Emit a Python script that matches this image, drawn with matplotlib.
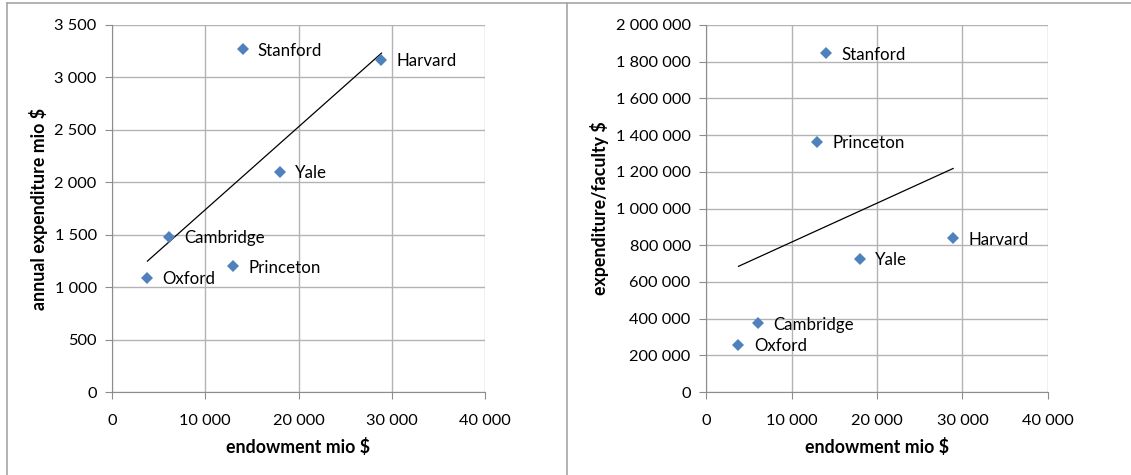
import matplotlib.pyplot as plt
import numpy as np
from matplotlib.lines import Line2D

# universities, endowment (mio $) and the two measures
names = ["Stanford", "Harvard", "Yale", "Cambridge", "Princeton", "Oxford"]
endowment = [14000, 28900, 18000, 6100, 13000, 3800]
expenditure = [3270, 3170, 2100, 1480, 1200, 1090]
exp_per_faculty = [1845000, 838000, 726000, 375000, 1363000, 258000]

x_ticks = [0, 10000, 20000, 30000, 40000]
y1_ticks = [0, 500, 1000, 1500, 2000, 2500, 3000, 3500]
y2_ticks = list(range(0, 2000001, 200000))

plt.rcParams['font.family'] = ['Lato', 'DejaVu Sans']
blue = '#4F81BD'
grid_c = '#b3b3b3'


def fmt(v):
    return f"{v:,}".replace(",", " ")


def draw(ax, y, yticks, ylabel):
    ax.set_xlim(0, 40000)
    ax.set_ylim(yticks[0], yticks[-1])
    ax.set_xticks(x_ticks)
    ax.set_xticklabels([fmt(v) for v in x_ticks])
    ax.set_yticks(yticks)
    ax.set_yticklabels([fmt(v) for v in yticks])
    ax.grid(True, color=grid_c, linewidth=1)
    ax.set_axisbelow(True)
    for s in ['top', 'right']:
        ax.spines[s].set_visible(False)
    for s in ['left', 'bottom']:
        ax.spines[s].set_color('#8c8c8c')
    ax.tick_params(length=5, color='#8c8c8c', labelsize=11.8, pad=6)
    ax.tick_params(axis='x', pad=11)

    # linear trend line over the data range
    k, b = np.polyfit(endowment, y, 1)
    xs = np.array([min(endowment), max(endowment)])
    ax.plot(xs, k * xs + b, color='black', linewidth=0.9, zorder=2)

    ax.plot(endowment, y, linestyle='none', marker='D', markersize=6.3,
            color=blue, markeredgewidth=0, zorder=3)
    for n, xv, yv in zip(names, endowment, y):
        ax.annotate(n, (xv, yv), xytext=(11, -1), textcoords='offset points',
                    va='center', ha='left', fontsize=12.2)

    ax.set_xlabel("endowment mio $", fontsize=12.8, fontweight='bold', labelpad=7)
    ax.set_ylabel(ylabel, fontsize=12.8, fontweight='bold', labelpad=5)


fig = plt.figure(figsize=(11.31, 4.75), dpi=100)
ax1 = fig.add_axes([112 / 1131, 83 / 475, 373 / 1131, 367 / 475])
ax2 = fig.add_axes([706 / 1131, 83 / 475, 342 / 1131, 367 / 475])

draw(ax1, expenditure, y1_ticks, "annual expenditure mio $")
draw(ax2, exp_per_faculty, y2_ticks, "expenditure/faculty $")

# chart borders
border = '#a6a6a6'
fig.add_artist(Line2D([7 / 1131, 7 / 1131], [0, 1 - 3 / 475], color=border, lw=1.2))
fig.add_artist(Line2D([567 / 1131, 567 / 1131], [0, 1 - 3 / 475], color=border, lw=1.2))
fig.add_artist(Line2D([7 / 1131, 1], [1 - 3 / 475, 1 - 3 / 475], color=border, lw=1.2))

fig.savefig("out.png", dpi=100)
